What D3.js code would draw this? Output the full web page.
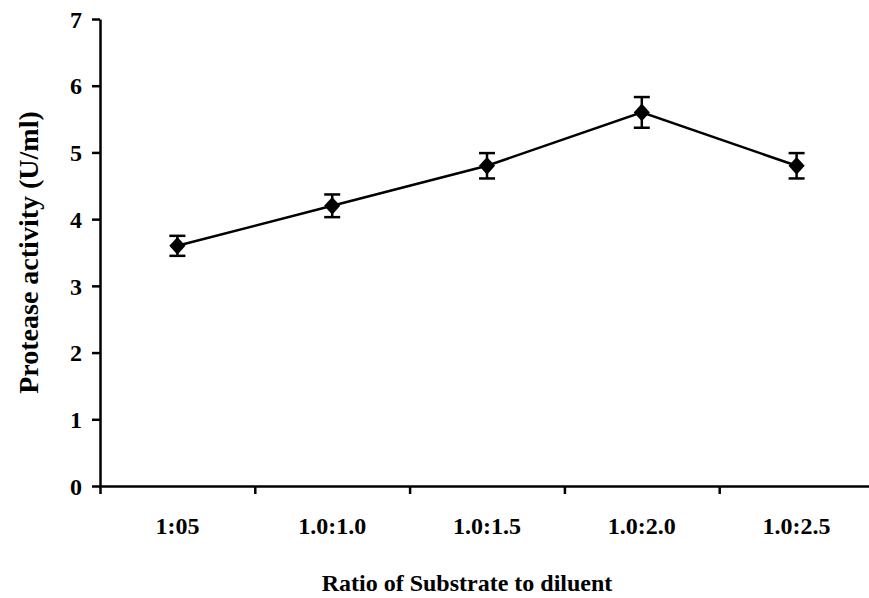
<!DOCTYPE html>
<html>
<head>
<meta charset="utf-8">
<script src="https://cdn.jsdelivr.net/npm/d3@7"></script>
<style>
  body { margin: 0; background: #fff; }
  text { font-family: "Liberation Serif", "Times New Roman", serif; font-weight: bold; fill: #000; }
</style>
</head>
<body>
<div id="chart"></div>
<script>
// chart data
var ratios = ["1:05", "1.0:1.0", "1.0:1.5", "1.0:2.0", "1.0:2.5"];
var activity = [3.6, 4.2, 4.8, 5.6, 4.8];
var errors = [0.15, 0.17, 0.19, 0.23, 0.19];
var yTicks = [0, 1, 2, 3, 4, 5, 6, 7];

var svgWidth = 869;
var svgHeight = 598;

var margin = {
  top: 19,
  right: -5,
  bottom: 112,
  left: 100
};

var width = svgWidth - margin.left - margin.right;
var height = svgHeight - margin.top - margin.bottom;

var svg = d3.select("#chart")
  .append("svg")
  .attr("width", svgWidth)
  .attr("height", svgHeight);

var chartGroup = svg.append("g")
  .attr("transform", `translate(${margin.left}, ${margin.top})`);

// scales
var xBand = d3.scaleBand()
  .domain(ratios)
  .range([0, width]);

var xEdge = d3.scaleLinear()
  .domain([0, ratios.length])
  .range([0, width]);

var yLinearScale = d3.scaleLinear()
  .domain([0, 7])
  .range([height, 0]);

// y axis
var leftAxis = d3.axisLeft(yLinearScale)
  .tickValues(yTicks)
  .tickFormat(d3.format("d"))
  .tickSize(8)
  .tickSizeOuter(0)
  .tickPadding(10);

var yAxis = chartGroup.append("g")
  .call(leftAxis);
yAxis.selectAll("text").style("font-size", "24px").attr("dy", "0.34em");

// x axis line with ticks at category edges
var edgeAxis = d3.axisBottom(xEdge)
  .tickValues(d3.range(ratios.length + 1))
  .tickFormat("")
  .tickSize(8)
  .tickSizeOuter(0);

chartGroup.append("g")
  .attr("transform", `translate(0, ${height})`)
  .call(edgeAxis);

// category labels in band centres
var bottomAxis = d3.axisBottom(xBand)
  .tickSize(0)
  .tickPadding(31);

var xLabels = chartGroup.append("g")
  .attr("transform", `translate(0, ${height})`)
  .call(bottomAxis);
xLabels.select(".domain").remove();
xLabels.selectAll("text").style("font-size", "24px");

chartGroup.selectAll(".domain, .tick line")
  .attr("stroke", "#000")
  .attr("stroke-width", 2.5);

// line through the points
var line = d3.line()
  .x((d, i) => xBand(ratios[i]) + xBand.bandwidth() / 2)
  .y(d => yLinearScale(d));

chartGroup.append("path")
  .datum(activity)
  .attr("d", line)
  .attr("fill", "none")
  .attr("stroke", "#000")
  .attr("stroke-width", 2.5);

// error bars
var errGroup = chartGroup.append("g")
  .selectAll("g")
  .data(activity)
  .enter()
  .append("g")
  .attr("transform", (d, i) => `translate(${xBand(ratios[i]) + xBand.bandwidth() / 2}, 0)`);

errGroup.append("line")
  .attr("x1", 0)
  .attr("x2", 0)
  .attr("y1", (d, i) => yLinearScale(d + errors[i]))
  .attr("y2", (d, i) => yLinearScale(d - errors[i]))
  .attr("stroke", "#000")
  .attr("stroke-width", 2.5);

errGroup.append("line")
  .attr("x1", -8)
  .attr("x2", 8)
  .attr("y1", (d, i) => yLinearScale(d + errors[i]))
  .attr("y2", (d, i) => yLinearScale(d + errors[i]))
  .attr("stroke", "#000")
  .attr("stroke-width", 2.5);

errGroup.append("line")
  .attr("x1", -8)
  .attr("x2", 8)
  .attr("y1", (d, i) => yLinearScale(d - errors[i]))
  .attr("y2", (d, i) => yLinearScale(d - errors[i]))
  .attr("stroke", "#000")
  .attr("stroke-width", 2.5);

// diamond markers
errGroup.append("path")
  .attr("d", d3.symbol().type(d3.symbolSquare).size(130))
  .attr("transform", d => `translate(0, ${yLinearScale(d)}) scale(1, 1.1) rotate(45)`)
  .attr("fill", "#000");

// axis titles
chartGroup.append("text")
  .attr("x", width / 2 - 20)
  .attr("y", height + 105)
  .attr("text-anchor", "middle")
  .style("font-size", "24px")
  .text("Ratio of Substrate to diluent");

chartGroup.append("text")
  .attr("transform", "rotate(-90)")
  .attr("x", 0 - (height / 2))
  .attr("y", 0 - margin.left + 38)
  .attr("text-anchor", "middle")
  .style("font-size", "28px")
  .text("Protease activity (U/ml)");
</script>
</body>
</html>
